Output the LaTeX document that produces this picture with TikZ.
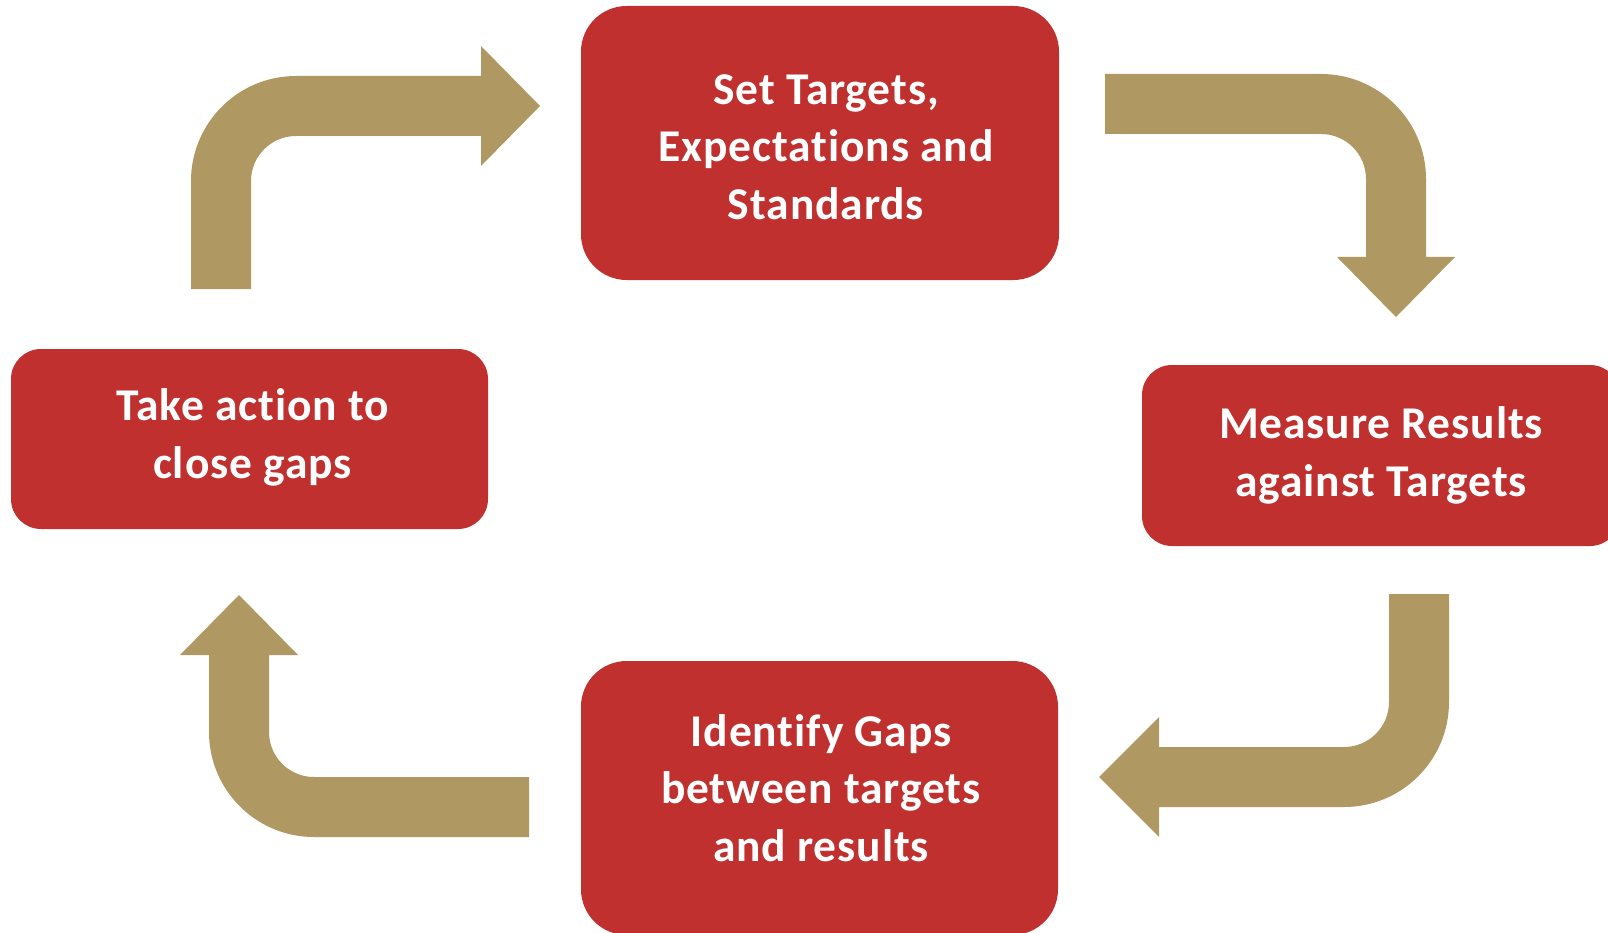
\documentclass[tikz,border=0pt]{standalone}
\usepackage{fontspec}
\setmainfont[Ligatures={NoCommon},LetterSpace=2]{Carlito}
\definecolor{boxred}{RGB}{191,48,46}
\definecolor{arrowgold}{RGB}{176,152,98}
\tikzset{
  stage/.style={fill=boxred, draw=none},
  stagetext/.style={text=white, font=\bfseries\fontsize{45.5}{57.5}\selectfont, align=center, inner sep=0pt, anchor=center},
  bentarrow/.style={fill=arrowgold, draw=none}
}
\begin{document}
\begin{tikzpicture}[x=1pt,y=-1pt]
\useasboundingbox (0,0) rectangle (1608,933);
% boxes
\path[stage, rounded corners=45.7pt] (581,6) rectangle (1059,280);
\path[stage, rounded corners=30pt] (1142,365) rectangle (1620,546);
\path[stage, rounded corners=45.7pt] (581,661) rectangle (1058,935);
\path[stage, rounded corners=30pt] (11,349) rectangle (488,529);
% texts
\node[stagetext] (t1) at (826,147) {Set Targets,\\Expectations and\\Standards};
\node[stagetext] (t2) at (1381,455.4) {Measure Results\\against Targets};
\node[stagetext] (t3) at (821,788) {Identify Gaps\\between targets\\and results};
\node[stagetext] (t4) at (252.5,437.4) {Take action to\\close gaps};
% arrows
\fill[bentarrow] (191,289) -- (191,181) .. controls (191,123) and (238,76) .. (296,76) -- (481,76) -- (481,46) -- (540,106) -- (481,166) -- (481,136) -- (296,136) .. controls (271.15,136) and (251,156.15) .. (251,181) -- (251,289) -- cycle;
\fill[bentarrow] (1105,74) -- (1321,74) .. controls (1379,74) and (1426,121) .. (1426,179) -- (1426,257) -- (1455,257) -- (1396,317) -- (1337,257) -- (1366,257) -- (1366,179) .. controls (1366,154.15) and (1345.85,134) .. (1321,134) -- (1105,134) -- cycle;
\fill[bentarrow] (1389,594) -- (1449,594) -- (1449,702) .. controls (1449,760) and (1402,807) .. (1344,807) -- (1159,807) -- (1159,837) -- (1099,777) -- (1159,717) -- (1159,747) -- (1344,747) .. controls (1368.85,747) and (1389,726.85) .. (1389,702) -- cycle;
\fill[bentarrow] (529,777) -- (314,777) .. controls (289.15,777) and (269,756.85) .. (269,732) -- (269,655) -- (298,655) -- (239,595) -- (180,655) -- (209,655) -- (209,732) .. controls (209,790) and (256,837) .. (314,837) -- (529,837) -- cycle;
\end{tikzpicture}
\end{document}
